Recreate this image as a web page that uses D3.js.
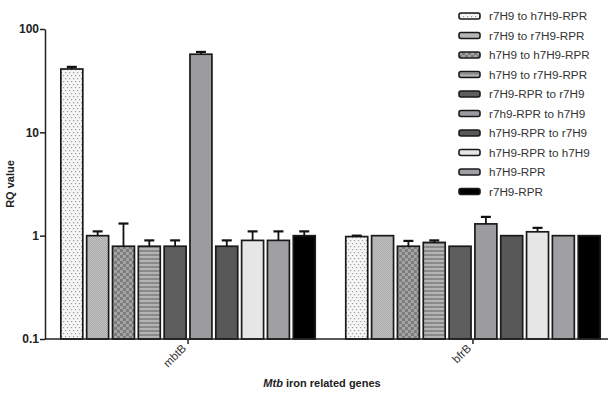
<!DOCTYPE html>
<html>
<head>
<meta charset="utf-8">
<script src="https://cdn.jsdelivr.net/npm/d3@7"></script>
<style>
  body { margin: 0; background: #fff; }
  svg { display: block; font-family: "Liberation Sans", Arial, sans-serif; }
</style>
</head>
<body>
<div id="chart"></div>
<script>
// ── Data ──────────────────────────────────────────────────────────────────────
const genes = ["mbtB", "bfrB"];
const seriesNames = [
  "r7H9 to h7H9-RPR", "r7H9 to r7H9-RPR", "h7H9 to h7H9-RPR", "h7H9 to r7H9-RPR",
  "r7H9-RPR to r7H9", "r7h9-RPR to h7H9", "h7H9-RPR to r7H9", "h7H9-RPR to h7H9",
  "h7H9-RPR", "r7H9-RPR"
];
// RQ values per series, [mbtB, bfrB]
const mbtBValues = [41, 1.0, 0.79, 0.79, 0.79, 57, 0.79, 0.9, 0.9, 1.0];
const mbtBUpper  = [43, 1.1, 1.31, 0.9, 0.9, 60, 0.9, 1.1, 1.1, 1.1];
const bfrBValues = [0.98, 1.0, 0.79, 0.86, 0.79, 1.3, 1.0, 1.09, 1.0, 1.0];
const bfrBUpper  = [1.0, 1.0, 0.89, 0.9, 0.79, 1.52, 1.0, 1.19, 1.0, 1.0];
const yTicks = [0.1, 1, 10, 100];

// ── Chart ─────────────────────────────────────────────────────────────────────
const width = 608, height = 396;
const svg = d3.select("#chart").append("svg").attr("width", width).attr("height", height);

// fills, patterns first
const defs = svg.append("defs");
function pattern(id, w, h, bg, draw) {
  const p = defs.append("pattern").attr("id", id).attr("patternUnits", "userSpaceOnUse")
    .attr("width", w).attr("height", h);
  p.append("rect").attr("width", w).attr("height", h).attr("fill", bg);
  draw(p);
}
pattern("p-dots", 4, 6, "#f6f6f6", p => {
  p.append("rect").attr("x", 0).attr("y", 0).attr("width", 1.2).attr("height", 1.2).attr("fill", "#999");
  p.append("rect").attr("x", 2).attr("y", 3).attr("width", 1.2).attr("height", 1.2).attr("fill", "#999");
});
pattern("p-fine", 2, 2, "#c4c4c4", p => {
  p.append("rect").attr("width", 1).attr("height", 1).attr("fill", "#a8a8a8");
  p.append("rect").attr("x", 1).attr("y", 1).attr("width", 1).attr("height", 1).attr("fill", "#a8a8a8");
});
pattern("p-check", 6, 6, "#a4a4a4", p => {
  p.append("rect").attr("width", 3).attr("height", 3).attr("fill", "#7c7c7c");
  p.append("rect").attr("x", 3).attr("y", 3).attr("width", 3).attr("height", 3).attr("fill", "#7c7c7c");
});
pattern("p-stripes", 4, 4, "#8a8a8a", p => {
  p.append("rect").attr("y", 0).attr("width", 4).attr("height", 2).attr("fill", "#b4b4b4");
});

const fills = [
  "url(#p-dots)", "url(#p-fine)", "url(#p-check)", "url(#p-stripes)",
  "#5e5e5e", "#9c9ca0", "#585858", "#e6e6e6", "#a0a0a4", "#000"
];

const margin = { top: 29, bottom: 57, left: 45 };
const plotBottom = height - margin.bottom;

const y = d3.scaleLog().domain([0.1, 100]).range([plotBottom, margin.top]);
const x0 = d3.scaleBand().domain(genes).range([45, 616]).paddingInner(0.08).paddingOuter(0.042);
const x1 = d3.scaleBand().domain(d3.range(seriesNames.length)).range([0, x0.bandwidth()]).padding(0.15);

const rows = [
  { gene: "mbtB", values: mbtBValues, upper: mbtBUpper },
  { gene: "bfrB", values: bfrBValues, upper: bfrBUpper }
];

// bars
for (const r of rows) {
  const g = svg.append("g").attr("transform", `translate(${x0(r.gene)},0)`);
  r.values.forEach((v, i) => {
    const bx = x1(i), bw = x1.bandwidth();
    g.append("rect")
      .attr("x", bx).attr("y", y(v))
      .attr("width", bw).attr("height", y(0.1) - y(v))
      .attr("fill", fills[i]).attr("stroke", "#1a1a1a").attr("stroke-width", 1.7);
    if (r.upper[i] > v * 1.01) {
      const cx = bx + bw / 2;
      g.append("line").attr("x1", cx).attr("x2", cx).attr("y1", y(v)).attr("y2", y(r.upper[i]))
        .attr("stroke", "#111").attr("stroke-width", 1.8);
      g.append("line").attr("x1", cx - 5).attr("x2", cx + 5).attr("y1", y(r.upper[i])).attr("y2", y(r.upper[i]))
        .attr("stroke", "#111").attr("stroke-width", 2.2);
    }
  });
}

// y axis
const yAxis = svg.append("g").attr("transform", `translate(${margin.left},0)`)
  .call(d3.axisLeft(y).tickValues(yTicks).tickFormat(d => d).tickSize(5).tickSizeOuter(0));
yAxis.select(".domain").attr("stroke", "#222").attr("stroke-width", 1.5);
yAxis.selectAll(".tick line").attr("stroke", "#222").attr("stroke-width", 1.5);
yAxis.selectAll(".tick text").attr("font-size", "12px").attr("font-weight", "bold")
  .attr("fill", "#222").attr("x", -6).attr("font-family", "Liberation Sans, Arial, sans-serif");

// x axis
const xAxis = svg.append("g").attr("transform", `translate(0,${plotBottom})`)
  .call(d3.axisBottom(x0).tickSize(5).tickSizeOuter(0));
xAxis.select(".domain").attr("d", `M${margin.left},0H${width}`).attr("stroke", "#222").attr("stroke-width", 1.5);
xAxis.selectAll(".tick line").attr("stroke", "#222").attr("stroke-width", 1.5);
xAxis.selectAll(".tick text")
  .attr("font-size", "11.5px").attr("fill", "#333")
  .attr("font-family", "Liberation Sans, Arial, sans-serif")
  .attr("text-anchor", "end").attr("dy", 0).attr("y", 0)
  .attr("transform", "translate(-1,10) rotate(-45)");

// axis titles
svg.append("text").attr("transform", `translate(14,${(margin.top + plotBottom) / 2}) rotate(-90)`)
  .attr("text-anchor", "middle").attr("font-size", "11px").attr("font-weight", "bold").attr("fill", "#222")
  .text("RQ value");

const xt = svg.append("text").attr("x", 322).attr("y", 387).attr("text-anchor", "middle")
  .attr("font-size", "11px").attr("font-weight", "bold").attr("fill", "#222");
xt.append("tspan").attr("font-style", "italic").text("Mtb");
xt.append("tspan").text(" iron related genes");

// legend
const legend = svg.append("g").attr("transform", "translate(459,16)");
seriesNames.forEach((name, i) => {
  const row = legend.append("g").attr("transform", `translate(0,${i * 19.5})`);
  row.append("rect").attr("x", 0).attr("y", -3).attr("width", 21).attr("height", 6).attr("rx", 2)
    .attr("fill", fills[i]).attr("stroke", "#1a1a1a").attr("stroke-width", 1.6);
  row.append("text").attr("x", 30).attr("y", 0).attr("dy", "0.35em")
    .attr("font-size", "11.7px").attr("fill", "#333").text(name);
});
</script>
</body>
</html>
